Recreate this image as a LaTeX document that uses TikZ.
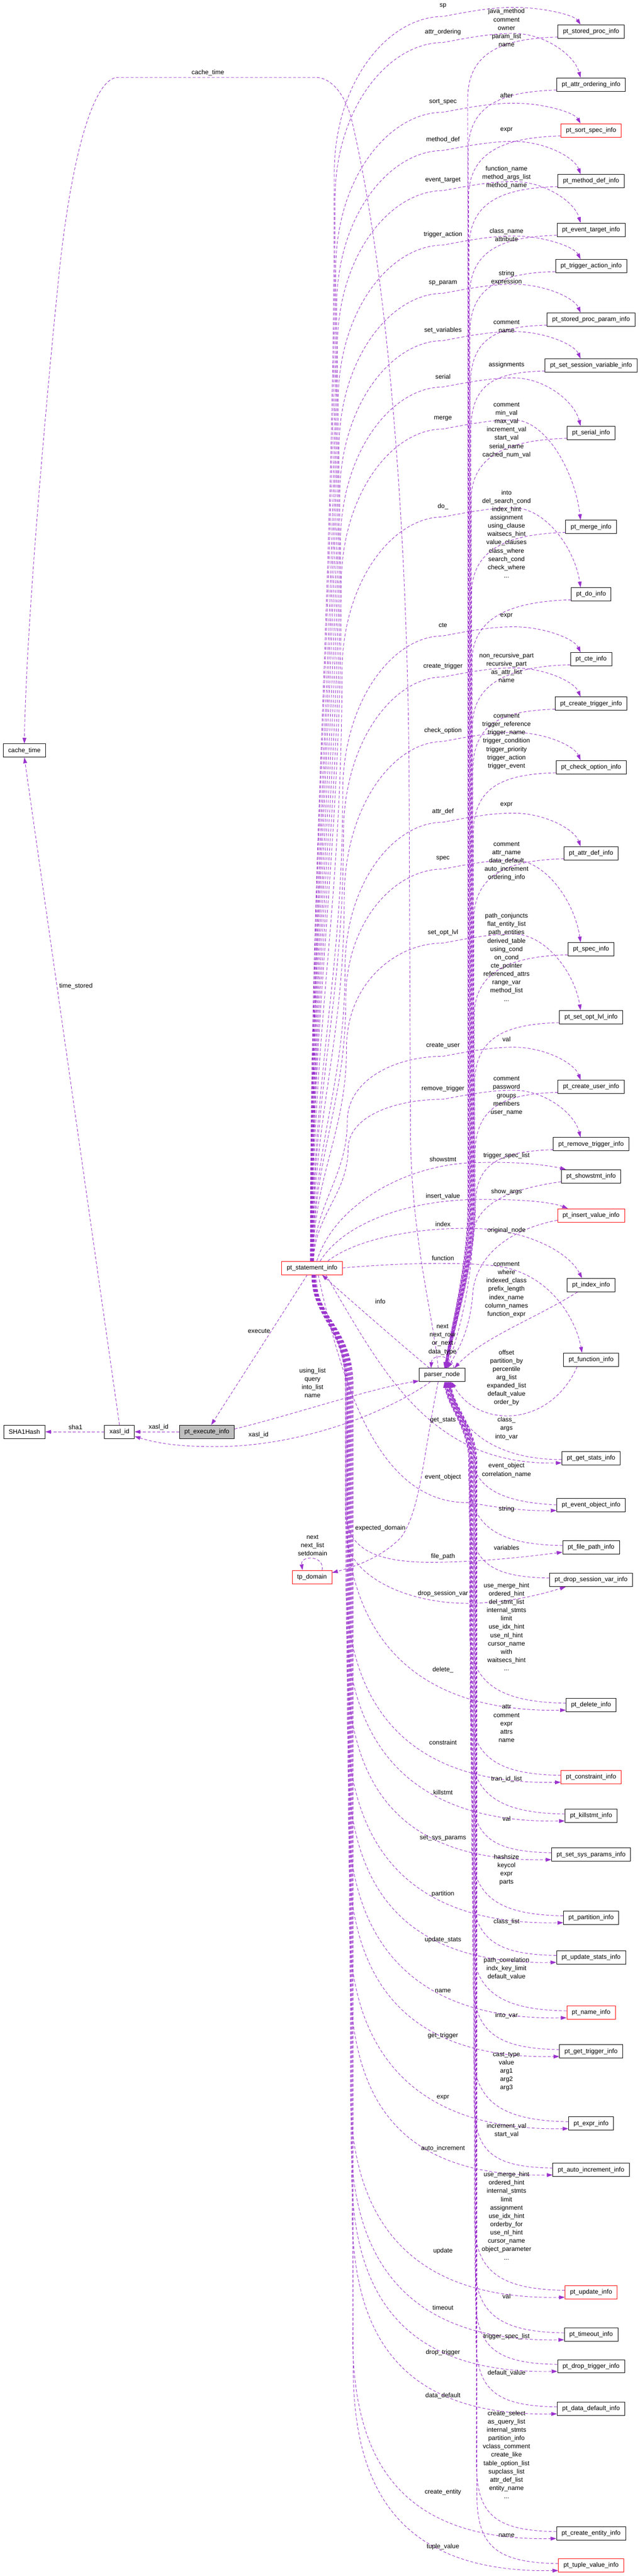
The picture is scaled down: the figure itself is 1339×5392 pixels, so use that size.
\documentclass[tikz,border=0pt]{standalone}
\usepackage{fontspec}
\newfontfamily\lsans{Liberation Sans}
\usetikzlibrary{arrows.meta,calc}
\definecolor{edgec}{HTML}{9A32CD}
\definecolor{grayfill}{HTML}{BFBFBF}
\tikzset{
  cls/.style={draw=black, line width=1pt, rectangle, minimum height=28pt, inner xsep=10.5pt, inner ysep=0pt, font=\lsans\fontsize{13.3}{17.4}\selectfont, fill=white},
  lbl/.style={inner sep=0pt, align=center, font=\lsans\fontsize{13.3}{17.4}\selectfont},
  conn/.style={draw=edgec, line width=1pt, dash pattern=on 6pt off 4pt, -{Triangle[length=12pt,width=8pt]}}
}
\newcommand\mknode[4]{\node[cls,draw=#3] (#1) at (1237,#2) {#4};}
\newcommand\elab[3]{\node[lbl] at (#1,#2) {#3};}
% upper forward: #1 target, #2 Y, #3 L, #4 index
\newcommand\upfwd[4]{%
 \pgfmathsetmacro\Sdx{-4+#4*0.4}%
 \pgfmathsetmacro\Vx{698+#4*1.6}%
 \pgfmathsetmacro\Rr{min(350,0.35*(2640-#3))}%
 \pgfmathsetmacro\Vy{#3+\Rr}%
 \pgfmathsetmacro\cA{-0.4*(2640-\Vy)}%
 \pgfmathsetmacro\cB{\Vy+0.4*(2640-\Vy)}%
 \pgfmathsetmacro\cC{#3+0.45*\Rr}%
 \pgfmathsetmacro\Mx{\Vx+0.5*(927-\Vx)}%
 \pgfmathsetmacro\My{#3+22}%
 \draw[conn] ($(st.north)+(\Sdx,0)$) .. controls ($(st.north)+(\Sdx,\cA)$) and (\Vx,\cB) .. (\Vx,\Vy)
   .. controls (\Vx,\cC) and (\Mx,\My) .. (927,\My)
   .. controls (990,#3+10) and (1030,#3+3) .. (1075,#3+3)
   .. controls (1140,#3+3) and (1202,{(#2-14+#3)/2}) .. ($(#1.north)+(-22,0)$);}
% upper return: #1 target, #2 Y, #3 index
\newcommand\upret[3]{%
 \pgfmathsetmacro\Bx{978+#3*0.9}%
 \pgfmathsetmacro\Pdx{5+#3*0.3}%
 \pgfmathsetmacro\Ym{min(#2+140,2520)}%
 \draw[conn] ($(#1.south west)+(0,-3)$) .. controls ($(#1.south west)+(-110,0)$) and (\Bx,#2+40) .. (\Bx,\Ym) -- (\Bx,2520)
   .. controls (\Bx,2650) and ($(pn.north)+(\Pdx+12,-80)$) .. ($(pn.north)+(\Pdx,0)$);}
% lower forward: #1 target, #2 Y, #3 index
\newcommand\dnfwd[3]{%
 \pgfmathsetmacro\Sdx{-3+#3*0.5}%
 \pgfmathsetmacro\Vx{717+#3*1.1}%
 \draw[conn] ($(st.south)+(\Sdx,0)$) .. controls ($(st.south)+(\Sdx,90)$) and (\Vx,2780) .. (\Vx,2900) -- (\Vx,#2-420)
   .. controls (\Vx,#2-180) and ($(#1.south west)+(-350,2)$) .. ($(#1.south west)+(0,-4)$);}
% lower return: #1 target, #2 Y, #3 index
\newcommand\dnret[3]{%
 \pgfmathsetmacro\Bx{978+#3*1.0}%
 \pgfmathsetmacro\Pdx{3+#3*0.8}%
 \draw[conn] ($(#1.west)+(0,-4)$) .. controls ($(#1.west)+(-130,-6)$) and (\Bx,#2-40) .. (\Bx,#2-150) -- (\Bx,3060)
   .. controls (\Bx,2990) and ($(pn.south)+(\Pdx+5,50)$) .. ($(pn.south)+(\Pdx,0)$);}
\begin{document}
\begin{tikzpicture}[x=1pt,y=-1pt]
\fill[white] (0,0) rectangle (1339,5392);
\useasboundingbox (0,0) rectangle (1339,5392);

% ---------- central / left nodes ----------
\node[cls] (ct) at (51,1571) {cache\_time};
\node[cls] (sha) at (51,2997) {SHA1Hash};
\node[cls] (xid) at (250,2997) {xasl\_id};
\node[cls,fill=grayfill] (pe) at (433,2997) {pt\_execute\_info};
\node[cls,draw=red] (st) at (653,2654) {pt\_statement\_info};
\node[cls] (pn) at (925,2878) {parser\_node};
\node[cls,draw=red] (tp) at (653,3301) {tp\_domain};

% ---------- upper column ----------
\mknode{u1}{66}{black}{pt\_stored\_proc\_info}
\mknode{u2}{177}{black}{pt\_attr\_ordering\_info}
\mknode{u3}{273}{red}{pt\_sort\_spec\_info}
\mknode{u4}{379}{black}{pt\_method\_def\_info}
\mknode{u5}{481}{black}{pt\_event\_target\_info}
\mknode{u6}{557}{black}{pt\_trigger\_action\_info}
\mknode{u7}{669}{black}{pt\_stored\_proc\_param\_info}
\mknode{u8}{765}{black}{pt\_set\_session\_variable\_info}
\mknode{u9}{906}{black}{pt\_serial\_info}
\mknode{u10}{1103}{black}{pt\_merge\_info}
\mknode{u11}{1244}{black}{pt\_do\_info}
\mknode{u12}{1380}{black}{pt\_cte\_info}
\mknode{u13}{1473}{black}{pt\_create\_trigger\_info}
\mknode{u14}{1606}{black}{pt\_check\_option\_info}
\mknode{u15}{1786}{black}{pt\_attr\_def\_info}
\mknode{u16}{1987}{black}{pt\_spec\_info}
\mknode{u17}{2129}{black}{pt\_set\_opt\_lvl\_info}
\mknode{u18}{2275}{black}{pt\_create\_user\_info}
\mknode{u19}{2395}{black}{pt\_remove\_trigger\_info}
\mknode{u20}{2462}{black}{pt\_showstmt\_info}
\mknode{u21}{2544}{red}{pt\_insert\_value\_info}
\mknode{u22}{2690}{black}{pt\_index\_info}
\mknode{u23}{2846}{black}{pt\_function\_info}

% ---------- lower column ----------
\mknode{d1}{3052}{black}{pt\_get\_stats\_info}
\mknode{d2}{3150}{black}{pt\_event\_object\_info}
\mknode{d3}{3239}{black}{pt\_file\_path\_info}
\mknode{d4}{3307}{black}{pt\_drop\_session\_var\_info}
\mknode{d5}{3569}{black}{pt\_delete\_info}
\mknode{d6}{3720}{red}{pt\_constraint\_info}
\mknode{d7}{3801}{black}{pt\_killstmt\_info}
\mknode{d8}{3882}{black}{pt\_set\_sys\_params\_info}
\mknode{d9}{4014}{black}{pt\_partition\_info}
\mknode{d10}{4097}{black}{pt\_update\_stats\_info}
\mknode{d11}{4213}{red}{pt\_name\_info}
\mknode{d12}{4294}{black}{pt\_get\_trigger\_info}
\mknode{d13}{4445}{black}{pt\_expr\_info}
\mknode{d14}{4542}{black}{pt\_auto\_increment\_info}
\mknode{d15}{4798}{red}{pt\_update\_info}
\mknode{d16}{4887}{black}{pt\_timeout\_info}
\mknode{d17}{4953}{black}{pt\_drop\_trigger\_info}
\mknode{d18}{5042}{black}{pt\_data\_default\_info}
\mknode{d19}{5303}{black}{pt\_create\_entity\_info}
\mknode{d20}{5370}{red}{pt\_tuple\_value\_info}

% ---------- edges: left part ----------
\draw[conn] (xid.west) -- (sha.east);
\draw[conn] (pe.west) -- (xid.east);
\draw[conn] ($(st.south)+(-10,0)$) -- ($(pe.north)+(9,0)$);
\draw[conn] ($(pe.east)+(0,-6)$) .. controls (600,2965) and (780,2905) .. ($(pn.south west)+(0,-2)$);
\draw[conn] ($(pn.south west)+(24,0)$) .. controls (820,2950) and (640,3028) .. (450,3028) .. controls (360,3028) and (320,3018) .. ($(xid.south east)+(0,-5)$);
\draw[conn] ($(pn.north west)+(22,0)$) .. controls (840,2815) and (720,2710) .. ($(st.south)+(21,0)$);
\draw[conn] ($(pn.north)+(25,0)$) .. controls (948,2836) and (904,2832) .. ($(pn.north)+(-23,0)$);
\draw[conn] ($(pn.south)+(-8,0)$) .. controls (885,3050) and (880,3160) .. (840,3217) .. controls (800,3260) and (740,3280) .. ($(tp.east)+(0,-9)$);
\draw[conn] ($(tp.north)+(21,0)$) .. controls (680,3255) and (628,3255) .. ($(tp.north)+(-20,0)$);
\draw[conn] ($(pn.north)+(-8,0)$) .. controls (908,2760) and (862,2600) .. (859,2378) -- (856,1600)
   .. controls (850,1000) and (800,520) .. (735,247) .. controls (722,200) and (695,162) .. (660,162) -- (247,162)
   .. controls (195,162) and (150,330) .. (125,560) .. controls (100,800) and (55,1300) .. (ct.north);
\draw[conn] (xid.north) -- (ct.south);

% ---------- edges: upper ----------
\upfwd{u1}{66}{12.5}{1}   \upret{u1}{66}{1}
\upfwd{u2}{177}{67}{2}    \upret{u2}{177}{2}
\upfwd{u3}{273}{213}{3}   \upret{u3}{273}{3}
\upfwd{u4}{379}{293}{4}   \upret{u4}{379}{4}
\upfwd{u5}{481}{377}{5}   \upret{u5}{481}{5}
\upfwd{u6}{557}{491}{6}   \upret{u6}{557}{6}
\upfwd{u7}{669}{592}{7}   \upret{u7}{669}{7}
\upfwd{u8}{765}{691}{8}   \upret{u8}{765}{8}
\upfwd{u9}{906}{788}{9}   \upret{u9}{906}{9}
\upfwd{u10}{1103}{876}{10} \upret{u10}{1103}{10}
\upfwd{u11}{1244}{1060}{11} \upret{u11}{1244}{11}
\upfwd{u12}{1380}{1309}{12} \upret{u12}{1380}{12}
\upfwd{u13}{1473}{1395}{13} \upret{u13}{1473}{13}
\upfwd{u14}{1606}{1530}{14} \upret{u14}{1606}{14}
\upfwd{u15}{1786}{1699}{15} \upret{u15}{1786}{15}
\upfwd{u16}{1987}{1797}{16} \upret{u16}{1987}{16}
\upfwd{u17}{2129}{1952}{17} \upret{u17}{2129}{17}
\upfwd{u18}{2275}{2189}{18} \upret{u18}{2275}{18}
\upfwd{u19}{2395}{2279}{19} \upret{u19}{2395}{19}
% near ones
\draw[conn] ($(st.north)+(10,0)$) .. controls (700,2520) and (850,2440) .. (983,2434) .. controls (1080,2430) and (1140,2438) .. ($(u20.north west)+(10,0)$);
\draw[conn] ($(u20.south west)+(0,-3)$) .. controls (1060,2490) and (1000,2520) .. (990,2580) .. controls (985,2700) and (960,2790) .. ($(pn.north)+(10,0)$);
\draw[conn] ($(st.north)+(17,0)$) .. controls (720,2560) and (850,2515) .. (983,2511) .. controls (1080,2509) and (1150,2515) .. ($(u21.north west)+(22,0)$);
\draw[conn] ($(u21.west)+(0,10)$) .. controls (1060,2575) and (1000,2630) .. (990,2700) .. controls (985,2780) and (962,2820) .. ($(pn.north)+(12,0)$);
\draw[conn] ($(st.north)+(33,0)$) .. controls (750,2590) and (880,2570) .. (983,2571) .. controls (1100,2572) and (1190,2620) .. ($(u22.north)+(-19,0)$);
\draw[conn] ($(u22.south west)+(22,0)$) .. controls (1120,2760) and (1010,2800) .. ($(pn.north)+(26,0)$);
\draw[conn] (st.east) .. controls (820,2645) and (950,2640) .. (1040,2650) .. controls (1150,2665) and (1205,2760) .. ($(u23.north)+(-19,0)$);
\draw[conn] ($(u23.south west)+(29,0)$) .. controls (1150,2990) and (1000,2990) .. ($(pn.south)+(20,0)$);

% ---------- edges: lower ----------
\draw[conn] ($(st.south)+(29,0)$) .. controls (800,2870) and (900,3068) .. ($(d1.west)+(0,10)$);
\draw[conn] ($(d1.west)+(0,3)$) .. controls (1050,3056) and (955,3000) .. ($(pn.south)+(17,0)$);
\draw[conn] ($(st.south)+(13,0)$) .. controls (720,2920) and (800,3150) .. (983,3145) .. controls (1060,3160) and (1120,3163) .. ($(d2.south west)+(0,-3)$);
\draw[conn] ($(d2.west)+(0,0)$) .. controls (1040,3144) and (990,3110) .. (986,3040) .. controls (983,2980) and (950,2940) .. ($(pn.south)+(14,0)$);
\draw[conn] ($(st.south)+(9,0)$) .. controls (662,2760) and (724,2790) .. (724,2900) -- (724,3170)
   .. controls (728,3250) and (800,3272) .. (918,3270) .. controls (1030,3268) and (1120,3256) .. ($(d3.west)+(0,10)$);
\dnret{d3}{3239}{3}
\draw[conn] ($(st.south)+(6,0)$) .. controls (660,2760) and (727,2790) .. (727,2900) -- (727,3230)
   .. controls (740,3300) and (850,3356) .. (979,3356) .. controls (1070,3355) and (1140,3335) .. ($(d4.south west)+(34,0)$);
\dnret{d4}{3307}{4}
\dnfwd{d5}{3569}{5}   \dnret{d5}{3569}{5}
\dnfwd{d6}{3720}{6}   \dnret{d6}{3720}{6}
\dnfwd{d7}{3801}{7}   \dnret{d7}{3801}{7}
\dnfwd{d8}{3882}{8}   \dnret{d8}{3882}{8}
\dnfwd{d9}{4014}{9}   \dnret{d9}{4014}{9}
\dnfwd{d10}{4097}{10} \dnret{d10}{4097}{10}
\dnfwd{d11}{4213}{11} \dnret{d11}{4213}{11}
\dnfwd{d12}{4294}{12} \dnret{d12}{4294}{12}
\dnfwd{d13}{4445}{13} \dnret{d13}{4445}{13}
\dnfwd{d14}{4542}{14} \dnret{d14}{4542}{14}
\dnfwd{d15}{4798}{15} \dnret{d15}{4798}{15}
\dnfwd{d16}{4887}{16} \dnret{d16}{4887}{16}
\dnfwd{d17}{4953}{17} \dnret{d17}{4953}{17}
\dnfwd{d18}{5042}{18} \dnret{d18}{5042}{18}
\dnfwd{d19}{5303}{19} \dnret{d19}{5303}{19}
\dnfwd{d20}{5370}{20} \dnret{d20}{5370}{20}

% ---------- labels ----------
\elab{435}{152}{cache\_time}
\elab{159}{2064}{time\_stored}
\elab{158}{2987}{sha1}
\elab{332}{2987}{xasl\_id}
\elab{541}{3004}{xasl\_id}
\elab{542}{2786}{execute}
\elab{654}{2894.5}{using\_list\\query\\into\_list\\name}
\elab{796}{2724}{info}
\elab{926}{2804}{next\\next\_row\\or\_next\\data\_type}
\elab{654}{3235}{next\\next\_list\\setdomain}
\elab{796}{3199}{expected\_domain}

\elab{927}{12.5}{sp}
\elab{1060}{58}{java\_method\\comment\\owner\\param\_list\\name}
\elab{927}{67}{attr\_ordering}
\elab{1060}{200}{after}
\elab{927}{213}{sort\_spec}
\elab{1060}{272}{expr}
\elab{927}{293}{method\_def}
\elab{1060}{371}{function\_name\\method\_args\_list\\method\_name}
\elab{927}{377}{event\_target}
\elab{1060}{491.5}{class\_name\\attribute}
\elab{927}{491}{trigger\_action}
\elab{1060}{582}{string\\expression}
\elab{927}{592}{sp\_param}
\elab{1060}{683.5}{comment\\name}
\elab{927}{691}{set\_variables}
\elab{1060}{764}{assignments}
\elab{927}{788}{serial}
\elab{1060}{900.5}{comment\\min\_val\\max\_val\\increment\_val\\start\_val\\serial\_name\\cached\_num\_val}
\elab{927}{876}{merge}
\elab{1060}{1117.5}{into\\del\_search\_cond\\index\_hint\\assignment\\using\_clause\\waitsecs\_hint\\value\_clauses\\class\_where\\search\_cond\\check\_where\\...}
\elab{927}{1060}{do\_}
\elab{1060}{1289}{expr}
\elab{927}{1309}{cte}
\elab{1060}{1397.5}{non\_recursive\_part\\recursive\_part\\as\_attr\_list\\name}
\elab{927}{1395}{create\_trigger}
\elab{1060}{1552}{comment\\trigger\_reference\\trigger\_name\\trigger\_condition\\trigger\_priority\\trigger\_action\\trigger\_event}
\elab{927}{1530}{check\_option}
\elab{1060}{1685}{expr}
\elab{927}{1699}{attr\_def}
\elab{1060}{1803}{comment\\attr\_name\\data\_default\\auto\_increment\\ordering\_info}
\elab{927}{1797}{spec}
\elab{1060}{2003.5}{path\_conjuncts\\flat\_entity\_list\\path\_entities\\derived\_table\\using\_cond\\on\_cond\\cte\_pointer\\referenced\_attrs\\range\_var\\method\_list\\...}
\elab{927}{1952}{set\_opt\_lvl}
\elab{1060}{2175}{val}
\elab{927}{2189}{create\_user}
\elab{1060}{2294}{comment\\password\\groups\\members\\user\_name}
\elab{927}{2279}{remove\_trigger}
\elab{1060}{2419}{trigger\_spec\_list}
\elab{927}{2426}{showstmt}
\elab{1060}{2495}{show\_args}
\elab{927}{2504}{insert\_value}
\elab{1060}{2575}{original\_node}
\elab{927}{2562}{index}
\elab{1060}{2699.5}{comment\\where\\indexed\_class\\prefix\_length\\index\_name\\column\_names\\function\_expr}
\elab{927}{2634}{function}
\elab{1060}{2884}{offset\\partition\_by\\percentile\\arg\_list\\expanded\_list\\default\_value\\order\_by}

\elab{927}{2973}{get\_stats}
\elab{1060}{2990}{class\_\\args\\into\_var}
\elab{927}{3092}{event\_object}
\elab{1060}{3077.5}{event\_object\\correlation\_name}
\elab{927}{3258}{file\_path}
\elab{1060}{3159}{string}
\elab{927}{3336}{drop\_session\_var}
\elab{1060}{3240}{variables}
\elab{927}{3495}{delete\_}
\elab{1060}{3405}{use\_merge\_hint\\ordered\_hint\\del\_stmt\_list\\internal\_stmts\\limit\\use\_idx\_hint\\use\_nl\_hint\\cursor\_name\\with\\waitsecs\_hint\\...}
\elab{927}{3647}{constraint}
\elab{1060}{3607.5}{attr\\comment\\expr\\attrs\\name}
\elab{927}{3752}{killstmt}
\elab{1060}{3724}{tran\_id\_list}
\elab{927}{3847}{set\_sys\_params}
\elab{1060}{3807}{val}
\elab{927}{3964}{partition}
\elab{1060}{3914}{hashsize\\keycol\\expr\\parts}
\elab{927}{4060}{update\_stats}
\elab{1060}{4023}{class\_list}
\elab{927}{4167}{name}
\elab{1060}{4120.5}{path\_correlation\\indx\_key\_limit\\default\_value}
\elab{927}{4261}{get\_trigger}
\elab{1060}{4219}{into\_var}
\elab{927}{4391}{expr}
\elab{1060}{4336}{cast\_type\\value\\arg1\\arg2\\arg3}
\elab{927}{4497}{auto\_increment}
\elab{1060}{4459.5}{increment\_val\\start\_val}
\elab{927}{4712}{update}
\elab{1060}{4638}{use\_merge\_hint\\ordered\_hint\\internal\_stmts\\limit\\assignment\\use\_idx\_hint\\orderby\_for\\use\_nl\_hint\\cursor\_name\\object\_parameter\\...}
\elab{927}{4830}{timeout}
\elab{1060}{4806}{val}
\elab{927}{4924}{drop\_trigger}
\elab{1060}{4891}{trigger\_spec\_list}
\elab{927}{5015}{data\_default}
\elab{1060}{4967}{default\_value}
\elab{927}{5216}{create\_entity}
\elab{1060}{5138}{create\_select\\as\_query\_list\\internal\_stmts\\partition\_info\\vclass\_comment\\create\_like\\table\_option\_list\\supclass\_list\\attr\_def\_list\\entity\_name\\...}
\elab{927}{5331}{tuple\_value}
\elab{1060}{5307}{name}
\end{tikzpicture}
\end{document}
